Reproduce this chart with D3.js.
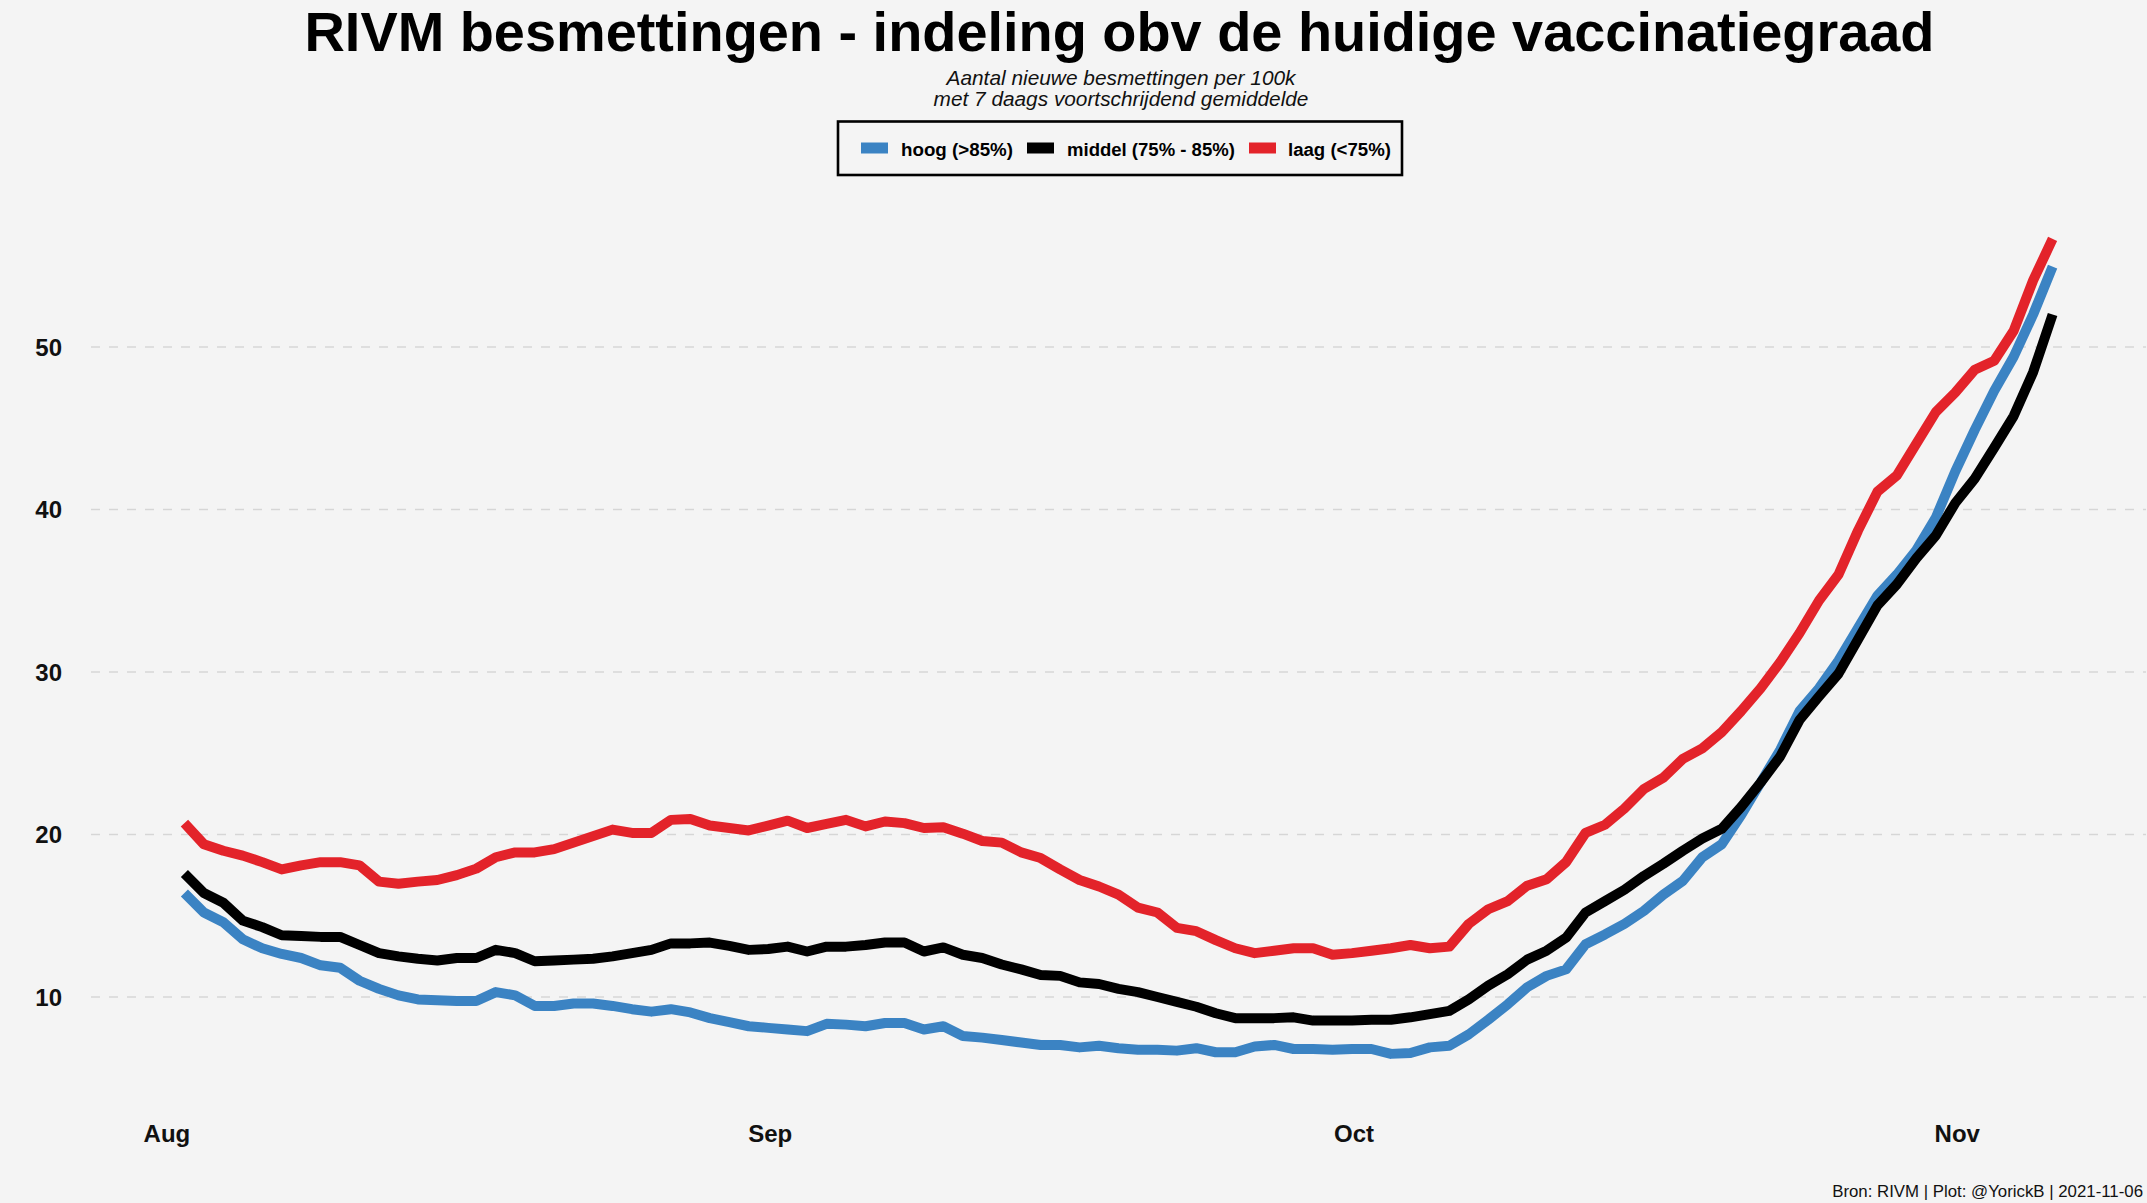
<!DOCTYPE html>
<html>
<head>
<meta charset="utf-8">
<script src="https://cdn.jsdelivr.net/npm/d3@7"></script>
<style>
  html, body { margin: 0; padding: 0; background: #f4f4f4; }
  svg { display: block; }
  text { font-family: "Liberation Sans", Arial, sans-serif; }
</style>
</head>
<body>
<svg id="chart" width="2147" height="1203"></svg>
<script>
// ---------- data ----------
const startDate = "2021-08-02";           // first day of the series (daily data)
const seriesNames = ["hoog (>85%)", "middel (75% - 85%)", "laag (<75%)"];
const seriesColors = ["#3b83c3", "#000000", "#e3232a"];

const hoog = [
  16.4, 15.2, 14.6, 13.55, 13.0, 12.65, 12.4, 11.95, 11.8, 11.0,
  10.5, 10.1, 9.85, 9.8, 9.75, 9.75, 10.3, 10.1, 9.45, 9.45,
  9.6, 9.6, 9.45, 9.25, 9.1, 9.25, 9.05, 8.7, 8.45, 8.2,
  8.1, 8.0, 7.9, 8.35, 8.3, 8.2, 8.4, 8.4, 8.0, 8.2,
  7.6, 7.5, 7.35, 7.2, 7.05, 7.05, 6.9, 7.0, 6.85, 6.75,
  6.75, 6.7, 6.85, 6.6, 6.6, 6.95, 7.05, 6.8, 6.8, 6.75,
  6.8, 6.8, 6.5, 6.55, 6.9, 7.0, 7.7, 8.6, 9.55, 10.6,
  11.3, 11.7, 13.25, 13.85, 14.5, 15.3, 16.3, 17.15, 18.6, 19.4,
  21.2, 23.2, 25.2, 27.6, 29.0, 30.7, 32.7, 34.7, 36.0, 37.5,
  39.5, 42.35, 44.9, 47.3, 49.4, 52.0, 54.95
];
const middel = [
  17.6, 16.4, 15.8, 14.7, 14.3, 13.8, 13.75, 13.7, 13.7, 13.2,
  12.7, 12.5, 12.35, 12.25, 12.4, 12.4, 12.9, 12.7, 12.2, 12.25,
  12.3, 12.35, 12.5, 12.7, 12.9, 13.3, 13.3, 13.35, 13.15, 12.9,
  12.95, 13.1, 12.8, 13.1, 13.1, 13.2, 13.35, 13.35, 12.8, 13.05,
  12.6, 12.4, 12.0, 11.7, 11.35, 11.3, 10.9, 10.8, 10.5, 10.3,
  10.0, 9.7, 9.4, 9.0, 8.7, 8.7, 8.7, 8.75, 8.55, 8.55,
  8.55, 8.6, 8.6, 8.75, 8.95, 9.15, 9.85, 10.7, 11.4, 12.3,
  12.85, 13.65, 15.2, 15.9, 16.6, 17.45, 18.2, 19.0, 19.75, 20.35,
  21.7, 23.2, 24.8, 27.05, 28.5, 29.9, 32.0, 34.1, 35.4, 37.0,
  38.4, 40.4, 41.9, 43.8, 45.75, 48.45, 52.0
];
const laag = [
  20.7, 19.4, 19.0, 18.7, 18.3, 17.85, 18.1, 18.3, 18.3, 18.1,
  17.1, 16.97, 17.1, 17.2, 17.5, 17.9, 18.6, 18.9, 18.9, 19.1,
  19.5, 19.9, 20.3, 20.1, 20.1, 20.9, 20.95, 20.55, 20.4, 20.25,
  20.55, 20.85, 20.4, 20.65, 20.9, 20.5, 20.8, 20.7, 20.4, 20.45,
  20.05, 19.6, 19.5, 18.9, 18.55, 17.85, 17.2, 16.8, 16.3, 15.5,
  15.2, 14.25, 14.05, 13.5, 13.0, 12.7, 12.85, 13.0, 13.0, 12.6,
  12.7, 12.85, 13.0, 13.2, 13.0, 13.1, 14.5, 15.4, 15.9, 16.85,
  17.25, 18.3, 20.1, 20.6, 21.6, 22.8, 23.5, 24.65, 25.3, 26.3,
  27.6, 29.0, 30.6, 32.4, 34.4, 36.0, 38.7, 41.1, 42.1, 44.05,
  46.0, 47.2, 48.6, 49.15, 51.0, 54.1, 56.65
];
const yTicks = [10, 20, 30, 40, 50];
const xTickDates = ["2021-08-01", "2021-09-01", "2021-10-01", "2021-11-01"];
const xTickLabels = ["Aug", "Sep", "Oct", "Nov"];

const titleText = "RIVM besmettingen - indeling obv de huidige vaccinatiegraad";
const subtitleLines = ["Aantal nieuwe besmettingen per 100k", "met 7 daags voortschrijdend gemiddelde"];
const captionText = "Bron: RIVM | Plot: @YorickB |  2021-11-06";

// ---------- build ----------
const parse = d3.utcParse("%Y-%m-%d");
const d0 = parse(startDate);
const dates = hoog.map((_, i) => d3.utcDay.offset(d0, i));
const allSeries = [hoog, middel, laag].map((vals, k) => ({
  name: seriesNames[k], color: seriesColors[k],
  points: vals.map((v, i) => ({ date: dates[i], value: v }))
}));

const svg = d3.select("#chart");
const W = 2147, H = 1203;
svg.append("rect").attr("width", W).attr("height", H).attr("fill", "#f4f4f4");

const panel = { left: 91, right: 2146 };

const first = dates[0], last = dates[dates.length - 1];
const span = last - first;
const x = d3.scaleUtc()
  .domain([new Date(+first - 0.05 * span), new Date(+last + 0.05 * span)])
  .range([panel.left, panel.right]);
const y = d3.scaleLinear().domain([10, 50]).range([997, 347]);

function fitText(sel, targetWidth) {
  const node = sel.node();
  const fs = parseFloat(sel.attr("font-size"));
  const w = node.getComputedTextLength();
  if (w > 0) sel.attr("font-size", (fs * targetWidth / w).toFixed(2));
  return sel;
}

// gridlines
svg.append("g").selectAll("line").data(yTicks).join("line")
  .attr("x1", panel.left).attr("x2", panel.right)
  .attr("y1", d => y(d)).attr("y2", d => y(d))
  .attr("stroke", "#d6d6d6").attr("stroke-width", 1.6)
  .attr("stroke-dasharray", "9,9");

// y axis labels
svg.append("g").selectAll("text").data(yTicks).join("text")
  .attr("x", 62).attr("y", d => y(d))
  .attr("dy", "0.36em")
  .attr("text-anchor", "end")
  .attr("font-size", 24).attr("font-weight", "bold")
  .attr("fill", "#111")
  .text(d => d3.format("d")(d));

// x axis labels
svg.append("g").selectAll("text").data(xTickDates).join("text")
  .attr("x", d => x(parse(d)) + 2).attr("y", 1142)
  .attr("text-anchor", "middle")
  .attr("font-size", 24).attr("font-weight", "bold")
  .attr("fill", "#111")
  .text((d, i) => xTickLabels[i]);

// lines
const line = d3.line().x(d => x(d.date)).y(d => y(d.value));
svg.append("g").selectAll("path").data(allSeries).join("path")
  .attr("d", d => line(d.points))
  .attr("fill", "none")
  .attr("stroke", d => d.color)
  .attr("stroke-width", 10)
  .attr("stroke-linejoin", "round")
  .attr("stroke-linecap", "butt");

// title
const title = svg.append("text")
  .attr("x", 1119.5).attr("y", 51)
  .attr("text-anchor", "middle")
  .attr("font-size", 52).attr("font-weight", "bold").attr("fill", "#000")
  .text(titleText);
fitText(title, 1630);

// subtitle
const subW = [349, 375];
const subY = [85, 106];
subtitleLines.forEach((s, i) => {
  const t = svg.append("text")
    .attr("x", 1121).attr("y", subY[i])
    .attr("text-anchor", "middle")
    .attr("font-size", 18).attr("font-style", "italic").attr("fill", "#111")
    .text(s);
  fitText(t, subW[i]);
});

// legend
const lg = svg.append("g");
lg.append("rect")
  .attr("x", 838).attr("y", 121.5).attr("width", 564).attr("height", 53.5)
  .attr("fill", "none").attr("stroke", "#000").attr("stroke-width", 2.6);
const keyX = [861, 1027, 1249];
const textX = [901, 1067, 1288];
const textW = [112, 168, 103];
allSeries.forEach((s, i) => {
  lg.append("rect")
    .attr("x", keyX[i]).attr("y", 142.5).attr("width", 27).attr("height", 11)
    .attr("fill", s.color);
  const t = lg.append("text")
    .attr("x", textX[i]).attr("y", 155.5)
    .attr("font-size", 19).attr("font-weight", "bold").attr("fill", "#000")
    .text(s.name);
  fitText(t, textW[i]);
});

// caption
const cap = svg.append("text")
  .attr("x", 2143).attr("y", 1197)
  .attr("text-anchor", "end")
  .attr("font-size", 15.5).attr("fill", "#111")
  .text(captionText);
fitText(cap, 311);
</script>
</body>
</html>
